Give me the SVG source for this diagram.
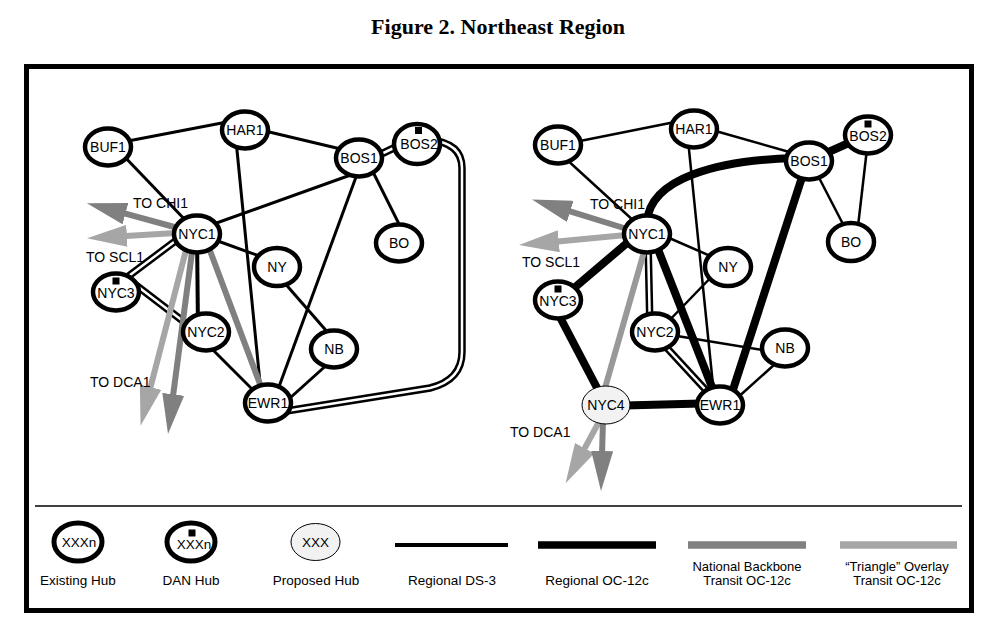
<svg xmlns="http://www.w3.org/2000/svg" width="991" height="636" viewBox="0 0 991 636">
<defs>
<style>
.hub{fill:#fff;stroke:#000;stroke-width:4.5}
.prop{fill:#f2f2f2;stroke:#000;stroke-width:1}
.t{font-family:"Liberation Sans",Arial,sans-serif;font-size:14px;text-anchor:middle;fill:#000}
.ta{font-family:"Liberation Sans",Arial,sans-serif;font-size:14px;fill:#000}
.lg{font-family:"Liberation Sans",Arial,sans-serif;font-size:13.5px;text-anchor:middle;fill:#000}
.lg2{font-family:"Liberation Sans",Arial,sans-serif;font-size:13px;text-anchor:middle;fill:#000}
.ds3{stroke:#000;stroke-width:3;fill:none}
.ds3r{stroke:#000;stroke-width:2.5;fill:none}
.oc{stroke:#000;stroke-width:8;fill:none}
.dbo{stroke:#000;stroke-width:7.5;fill:none}
.dbi{stroke:#fff;stroke-width:2.5;fill:none}
.nat{stroke:#808080;stroke-width:6;fill:none}
.tri{stroke:#a6a6a6;stroke-width:6;fill:none}
.sq{fill:#000}
</style>
<marker id="hN" viewBox="0 0 40 22" markerWidth="40" markerHeight="22" refX="1" refY="11" orient="auto" markerUnits="userSpaceOnUse"><path d="M0,0 L40,11 L0,22 z" fill="#808080"/></marker>
<marker id="hT" viewBox="0 0 40 22" markerWidth="40" markerHeight="22" refX="1" refY="11" orient="auto" markerUnits="userSpaceOnUse"><path d="M0,0 L40,11 L0,22 z" fill="#a6a6a6"/></marker>
</defs>
<rect width="991" height="636" fill="#fff"/>
<text x="498" y="34" font-family="'Liberation Serif','Times New Roman',serif" font-size="22" font-weight="bold" text-anchor="middle">Figure 2. Northeast Region</text>
<rect x="26.5" y="66.5" width="945" height="544" fill="none" stroke="#000" stroke-width="5"/>
<line x1="35" y1="506" x2="962" y2="506" stroke="#000" stroke-width="1.5"/>

<g id="connectors">
<!-- left diagram -->
<line class="ds3" x1="128" y1="141" x2="227" y2="122"/>
<line class="ds3" x1="265" y1="131" x2="345" y2="150"/>
<line class="ds3" x1="120" y1="152" x2="190" y2="225"/>
<line class="ds3" x1="235" y1="130" x2="262" y2="403"/>
<line class="ds3" x1="359" y1="172" x2="197" y2="230"/>
<line class="ds3" x1="366" y1="158" x2="401" y2="228"/>
<line class="ds3" x1="363" y1="158" x2="273" y2="403"/>
<line class="ds3" x1="215" y1="240" x2="265" y2="258"/>
<line class="ds3" x1="282" y1="280" x2="330" y2="335"/>
<line class="ds3" x1="330" y1="362" x2="290" y2="398"/>
<line class="ds3" x1="208" y1="345" x2="258" y2="395"/>
<line stroke="#000" stroke-width="4" x1="197" y1="235" x2="198" y2="330"/>
<line class="dbo" x1="375" y1="157" x2="400" y2="145"/>
<line class="dbi" x1="375" y1="157" x2="400" y2="145"/>
<path class="dbo" d="M430,140 Q462,143 462,168 L462,352 Q462,380 430,388 L280,412"/>
<path class="dbi" d="M430,140 Q462,143 462,168 L462,352 Q462,380 430,388 L280,412"/>
<line class="dbo" x1="182" y1="236" x2="118" y2="284"/>
<line class="dbi" x1="182" y1="236" x2="118" y2="284"/>
<line class="dbo" x1="128" y1="279" x2="192" y2="328"/>
<line class="dbi" x1="128" y1="279" x2="192" y2="328"/>
<line class="nat" x1="206" y1="240" x2="266" y2="400"/>
<line class="nat" x1="178" y1="228" x2="124.5" y2="213.4" marker-end="url(#hN)"/>
<line class="tri" x1="176" y1="233" x2="125.9" y2="235.9" marker-end="url(#hT)"/>
<line class="tri" x1="186" y1="250" x2="150.3" y2="388.1" marker-end="url(#hT)"/>
<line class="nat" x1="192" y1="252" x2="173.1" y2="395.3" marker-end="url(#hN)"/>
<!-- right diagram -->
<line class="ds3r" x1="575" y1="142" x2="680" y2="121"/>
<line class="ds3r" x1="712" y1="130" x2="800" y2="155"/>
<line class="ds3r" x1="565" y1="158" x2="635" y2="222"/>
<line class="ds3r" x1="687" y1="130" x2="715" y2="405"/>
<line class="ds3r" x1="815" y1="170" x2="845" y2="228"/>
<line class="ds3r" x1="868" y1="140" x2="857" y2="235"/>
<line class="ds3r" x1="660" y1="234" x2="715" y2="258"/>
<line class="ds3r" x1="720" y1="268" x2="660" y2="330"/>
<line class="ds3r" x1="665" y1="334" x2="775" y2="352"/>
<line class="ds3r" x1="785" y1="355" x2="735" y2="400"/>
<path class="oc" d="M647,222 C650,178 718,160 795,158"/>
<line class="oc" x1="806" y1="165" x2="728" y2="405"/>
<line class="oc" x1="815" y1="158" x2="860" y2="138"/>
<line class="oc" x1="652" y1="234" x2="719" y2="405"/>
<line class="oc" x1="640" y1="232" x2="560" y2="300"/>
<line class="oc" x1="551" y1="300" x2="606" y2="405"/>
<line class="oc" x1="606" y1="406" x2="720" y2="403"/>
<line class="dbo" x1="648" y1="240" x2="650" y2="330"/>
<line class="dbi" x1="648" y1="240" x2="650" y2="330"/>
<line class="dbo" x1="655" y1="335" x2="715" y2="400"/>
<line class="dbi" x1="655" y1="335" x2="715" y2="400"/>
<line stroke="#999" stroke-width="6" x1="646" y1="245" x2="603" y2="395"/>
<line class="nat" x1="627" y1="229" x2="569.3" y2="211.1" marker-end="url(#hN)"/>
<line class="tri" x1="626" y1="235" x2="557.8" y2="241.4" marker-end="url(#hT)"/>
<line class="tri" x1="600" y1="420" x2="584.2" y2="449.1" marker-end="url(#hT)"/>
<line class="nat" x1="603" y1="420" x2="602.1" y2="452" marker-end="url(#hN)"/>
</g>

<g id="labels">
<text class="ta" x="133" y="208">TO CHI1</text>
<text class="ta" x="86" y="262">TO SCL1</text>
<text class="ta" x="90" y="387">TO DCA1</text>
<text class="ta" x="590" y="209">TO CHI1</text>
<text class="ta" x="522" y="267">TO SCL1</text>
<text class="ta" x="510" y="437">TO DCA1</text>
</g>

<g id="L-BUF1"><ellipse class="hub" cx="108" cy="147" rx="23" ry="18.5"/><text class="t" x="108" y="152">BUF1</text></g>
<g id="L-HAR1"><ellipse class="hub" cx="245" cy="130" rx="23" ry="18.5"/><text class="t" x="245" y="135">HAR1</text></g>
<g id="L-BOS1"><ellipse class="hub" cx="359" cy="158" rx="23" ry="18.5"/><text class="t" x="359" y="163">BOS1</text></g>
<g id="L-BOS2"><ellipse class="hub" cx="417" cy="144" rx="23" ry="20"/><rect class="sq" x="415" y="127" width="7" height="7"/><text class="t" x="419" y="149">BOS2</text></g>
<g id="L-BO"><ellipse class="hub" cx="399" cy="243" rx="23" ry="18.5"/><text class="t" x="399" y="248">BO</text></g>
<g id="L-NYC1"><ellipse class="hub" cx="197" cy="234" rx="23" ry="18.5"/><text class="t" x="197" y="239">NYC1</text></g>
<g id="L-NY"><ellipse class="hub" cx="277" cy="267" rx="23" ry="19"/><text class="t" x="277" y="272">NY</text></g>
<g id="L-NYC3"><ellipse class="hub" cx="116" cy="292" rx="23" ry="18.5"/><rect class="sq" x="112.5" y="277.5" width="7" height="7"/><text class="t" x="116" y="298">NYC3</text></g>
<g id="L-NYC2"><ellipse class="hub" cx="206" cy="332" rx="23" ry="18.5"/><text class="t" x="206" y="337">NYC2</text></g>
<g id="L-NB"><ellipse class="hub" cx="334" cy="349" rx="23" ry="18.5"/><text class="t" x="334" y="354">NB</text></g>
<g id="L-EWR1"><ellipse class="hub" cx="268" cy="403" rx="23" ry="18.5"/><text class="t" x="268" y="408">EWR1</text></g>

<g id="R-BUF1"><ellipse class="hub" cx="558" cy="145" rx="23" ry="18.5"/><text class="t" x="558" y="150">BUF1</text></g>
<g id="R-HAR1"><ellipse class="hub" cx="694" cy="129" rx="23" ry="18.5"/><text class="t" x="694" y="134">HAR1</text></g>
<g id="R-BOS1"><ellipse class="hub" cx="809" cy="161" rx="23" ry="18.5"/><text class="t" x="809" y="166">BOS1</text></g>
<g id="R-BOS2"><ellipse class="hub" cx="868" cy="135" rx="23" ry="18.5"/><rect class="sq" x="864.5" y="120.5" width="7" height="7"/><text class="t" x="868" y="141">BOS2</text></g>
<g id="R-BO"><ellipse class="hub" cx="851" cy="242" rx="23" ry="19"/><text class="t" x="851" y="247">BO</text></g>
<g id="R-NYC1"><ellipse class="hub" cx="647" cy="234" rx="23" ry="18.5"/><text class="t" x="647" y="239">NYC1</text></g>
<g id="R-NY"><ellipse class="hub" cx="728" cy="267" rx="23" ry="19"/><text class="t" x="728" y="272">NY</text></g>
<g id="R-NYC3"><ellipse class="hub" cx="558" cy="300" rx="23" ry="18.5"/><rect class="sq" x="554.5" y="285.5" width="7" height="7"/><text class="t" x="558" y="306">NYC3</text></g>
<g id="R-NYC2"><ellipse class="hub" cx="655" cy="332" rx="23" ry="18.5"/><text class="t" x="655" y="337">NYC2</text></g>
<g id="R-NB"><ellipse class="hub" cx="785" cy="348" rx="23" ry="18.5"/><text class="t" x="785" y="353">NB</text></g>
<g id="R-EWR1"><ellipse class="hub" cx="720" cy="405" rx="23" ry="18.5"/><text class="t" x="720" y="410">EWR1</text></g>
<g id="R-NYC4"><ellipse class="prop" cx="606" cy="405" rx="24" ry="19"/><text class="t" x="606" y="410">NYC4</text></g>

<g id="legend">
<g id="lg-existing"><ellipse cx="78" cy="542" rx="24" ry="19" fill="#fff" stroke="#000" stroke-width="5"/><text class="lg" x="79" y="547" font-size="13">XXXn</text><text class="lg" x="78" y="585">Existing Hub</text></g>
<g id="lg-dan"><ellipse cx="191" cy="542" rx="24" ry="19" fill="#fff" stroke="#000" stroke-width="5"/><rect class="sq" x="188.5" y="529.5" width="7" height="7"/><text class="lg" x="194" y="549" font-size="13">XXXn</text><text class="lg" x="191" y="585">DAN Hub</text></g>
<g id="lg-proposed"><ellipse cx="315.5" cy="542" rx="24.5" ry="18.5" fill="#f2f2f2" stroke="#000" stroke-width="1"/><text class="lg" x="315.5" y="547" font-size="13">XXX</text><text class="lg" x="316" y="585">Proposed Hub</text></g>
<g id="lg-ds3"><line x1="395" y1="545" x2="508" y2="545" stroke="#000" stroke-width="4"/><text class="lg" x="452" y="585">Regional DS-3</text></g>
<g id="lg-oc"><line x1="538" y1="545" x2="656" y2="545" stroke="#000" stroke-width="7.5"/><text class="lg" x="597" y="585">Regional OC-12c</text></g>
<g id="lg-nat"><line x1="688" y1="545" x2="806" y2="545" stroke="#808080" stroke-width="7.5"/><text class="lg2" x="747" y="571">National Backbone</text><text class="lg2" x="747" y="585">Transit OC-12c</text></g>
<g id="lg-tri"><line x1="840" y1="545" x2="957" y2="545" stroke="#a6a6a6" stroke-width="7.5"/><text class="lg2" x="897" y="571">“Triangle” Overlay</text><text class="lg2" x="897" y="585">Transit OC-12c</text></g>
</g>
</svg>
